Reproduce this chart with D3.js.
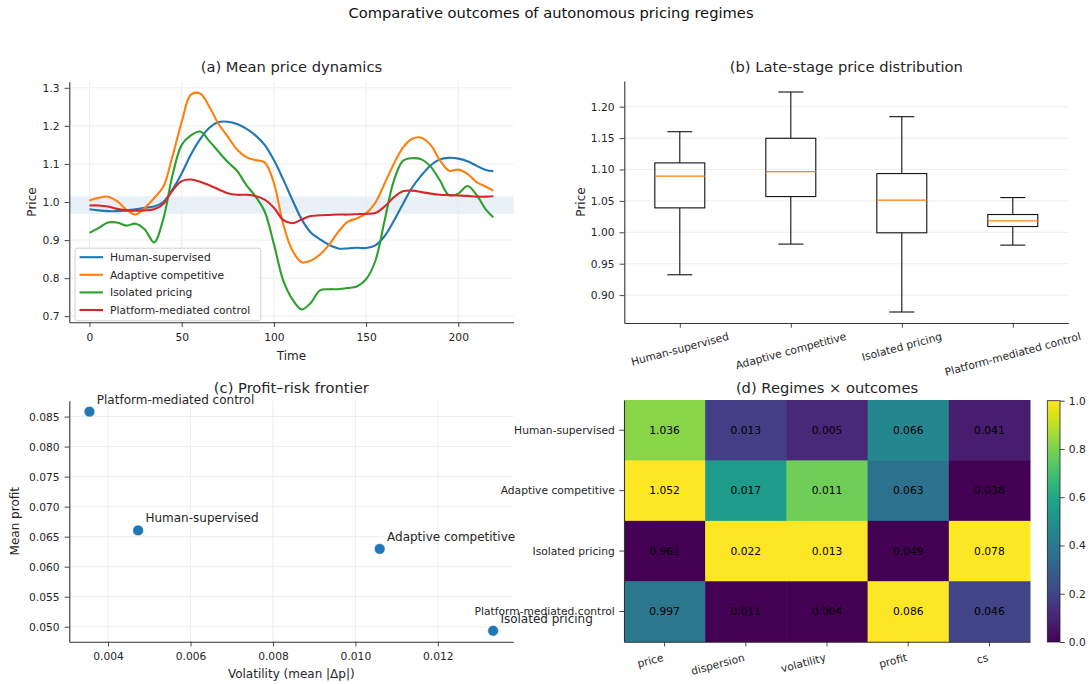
<!DOCTYPE html>
<html><head><meta charset="utf-8">
<script src="https://cdn.jsdelivr.net/npm/d3@7"></script>
<style>body{margin:0;background:#fff}svg{display:block}text{font-family:"DejaVu Sans",sans-serif}</style>
</head><body><svg id="c" width="1089" height="684"></svg>
<script>
// ---------------- DATA ----------------
const regimes = ["Human-supervised","Adaptive competitive","Isolated pricing","Platform-mediated control"];
const lineColors = ["#1f77b4","#ff7f0e","#2ca02c","#d62728"];
const timeSteps = [0,5,10,15,20,25,30,35,40,45,50,55,60,65,70,75,80,85,90,95,100,105,110,115,120,125,130,135,140,145,150,155,160,165,170,175,180,185,190,195,200,205,210,215,219];
const humanPrice = [0.981,0.978,0.976,0.976,0.978,0.981,0.985,0.988,1.000,1.033,1.075,1.125,1.165,1.195,1.210,1.211,1.205,1.193,1.175,1.150,1.110,1.060,1.006,0.955,0.920,0.902,0.887,0.878,0.878,0.880,0.879,0.886,0.910,0.950,0.995,1.038,1.070,1.096,1.112,1.116,1.114,1.107,1.095,1.084,1.081];
const adaptivePrice = [1.004,1.011,1.014,1.002,0.980,0.967,0.985,1.010,1.040,1.120,1.210,1.282,1.285,1.250,1.205,1.172,1.138,1.118,1.110,1.104,1.050,0.943,0.873,0.842,0.846,0.862,0.888,0.922,0.948,0.957,0.970,0.998,1.048,1.100,1.143,1.166,1.169,1.150,1.110,1.082,1.085,1.074,1.052,1.040,1.030];
const isolatedPrice = [0.919,0.932,0.946,0.946,0.938,0.943,0.928,0.894,0.955,1.070,1.150,1.175,1.185,1.160,1.132,1.105,1.082,1.045,1.015,0.975,0.890,0.795,0.745,0.718,0.735,0.768,0.771,0.771,0.774,0.778,0.797,0.845,0.950,1.055,1.108,1.115,1.112,1.093,1.057,1.018,1.022,1.042,1.018,0.980,0.960];
const platformPrice = [0.991,0.991,0.988,0.982,0.978,0.977,0.978,0.981,0.995,1.030,1.055,1.059,1.053,1.044,1.033,1.023,1.019,1.019,1.016,1.006,0.985,0.953,0.944,0.954,0.963,0.965,0.966,0.967,0.967,0.968,0.969,0.971,0.988,1.012,1.028,1.030,1.026,1.022,1.019,1.018,1.017,1.016,1.014,1.014,1.015];
const referenceBand = [0.969, 1.015];
const priceYLimits = [0.684, 1.316];
const timeTicks = [0,50,100,150,200];
const priceTicks = [0.7,0.8,0.9,1.0,1.1,1.2,1.3];

// (b) box plot statistics
const boxLow    = [0.9324,0.9812,0.8731,0.9796];
const boxQ1     = [1.0389,1.0569,0.9992,1.0092];
const boxMedian = [1.0893,1.0966,1.0511,1.0183];
const boxQ3     = [1.1105,1.1497,1.0935,1.0283];
const boxHigh   = [1.1602,1.2234,1.1841,1.0553];
const boxTicks = [0.90,0.95,1.00,1.05,1.10,1.15,1.20];

// (c) scatter
const volatilityMean = [0.00473,0.01059,0.01334,0.00355];
const profitMean     = [0.06604,0.06296,0.04933,0.08582];
const volTicks = [0.004,0.006,0.008,0.010,0.012];
const profitTicks = [0.050,0.055,0.060,0.065,0.070,0.075,0.080,0.085];

// (d) heatmap
const metrics = ["price","dispersion","volatility","profit","cs"];
const heatPrice      = [1.036,1.052,0.961,0.997];
const heatDispersion = [0.013,0.017,0.022,0.011];
const heatVolatility = [0.005,0.011,0.013,0.004];
const heatProfit     = [0.066,0.063,0.049,0.086];
const heatCS         = [0.041,0.038,0.078,0.046];
const colorbarTicks = [0.0,0.2,0.4,0.6,0.8,1.0];

// ---------------- DRAW ----------------
const svg = d3.select("#c");
const TICK = 10.7, LBL = 12, TTL = 14.7, GRID = "#ebebeb", INK = "#262626", SPINE = "#333";

function styleAxis(g){
  g.selectAll("text").attr("font-size",TICK).attr("fill",INK);
  g.selectAll(".tick line").attr("stroke",SPINE).attr("stroke-width",0.9);
  g.select(".domain").attr("stroke",SPINE).attr("stroke-width",1.1);
}
function title(txt,x,y){ svg.append("text").attr("x",x).attr("y",y).attr("text-anchor","middle").attr("font-size",TTL).attr("fill",INK).text(txt); }
function ylabel(txt,x,y){ svg.append("text").attr("transform",`translate(${x},${y}) rotate(-90)`).attr("text-anchor","middle").attr("font-size",LBL).attr("fill",INK).text(txt); }
function xlabel(txt,x,y){ svg.append("text").attr("x",x).attr("y",y).attr("text-anchor","middle").attr("font-size",LBL).attr("fill",INK).text(txt); }

svg.append("text").attr("x",551).attr("y",18).attr("text-anchor","middle").attr("font-size",TTL).attr("fill","#111").text("Comparative outcomes of autonomous pricing regimes");

// ===== (a) =====
{
const A = {l:69.3,r:513.5,t:81.7,b:322.3};
const ext = d3.extent(timeSteps), pad = (ext[1]-ext[0])*0.05;
const x = d3.scaleLinear().domain([ext[0]-pad, ext[1]+pad]).range([A.l,A.r]);
const y = d3.scaleLinear().domain(priceYLimits).range([A.b,A.t]);
svg.append("rect").attr("x",A.l).attr("width",A.r-A.l).attr("y",y(referenceBand[1])).attr("height",y(referenceBand[0])-y(referenceBand[1])).attr("fill","#1f77b4").attr("fill-opacity",0.1);
const g = svg.append("g");
timeTicks.forEach(t=>g.append("line").attr("x1",x(t)).attr("x2",x(t)).attr("y1",A.t).attr("y2",A.b).attr("stroke",GRID).attr("stroke-width",0.8));
priceTicks.forEach(t=>g.append("line").attr("x1",A.l).attr("x2",A.r).attr("y1",y(t)).attr("y2",y(t)).attr("stroke",GRID).attr("stroke-width",0.8));
const series = [humanPrice, adaptivePrice, isolatedPrice, platformPrice];
const line = d3.line().x((d,i)=>x(timeSteps[i])).y(d=>y(d)).curve(d3.curveCatmullRom.alpha(0.5));
series.forEach((s,i)=>svg.append("path").attr("d",line(s)).attr("fill","none").attr("stroke",lineColors[i]).attr("stroke-width",2.1).attr("stroke-linejoin","round"));
const ax = svg.append("g").attr("transform",`translate(0,${A.b})`).call(d3.axisBottom(x).tickValues(timeTicks).tickFormat(d3.format("d")).tickSize(4.7).tickPadding(6.5).tickSizeOuter(0));
styleAxis(ax);
const ay = svg.append("g").attr("transform",`translate(${A.l},0)`).call(d3.axisLeft(y).tickValues(priceTicks).tickFormat(d3.format(".1f")).tickSize(4.7).tickPadding(5).tickSizeOuter(0));
styleAxis(ay);
title("(a) Mean price dynamics",(A.l+A.r)/2,72.3);
xlabel("Time",(A.l+A.r)/2,A.b+38);
ylabel("Price",35.5,(A.t+A.b)/2);
// legend
const L = {x:75,y:248.2,w:185.8,h:72.6};
svg.append("rect").attr("x",L.x).attr("y",L.y).attr("width",L.w).attr("height",L.h).attr("rx",2.5).attr("fill","#fff").attr("fill-opacity",0.8).attr("stroke","#cccccc").attr("stroke-width",0.9);
regimes.forEach((r,i)=>{
  const cy = L.y+9+i*17.6;
  svg.append("line").attr("x1",L.x+4.5).attr("x2",L.x+28).attr("y1",cy).attr("y2",cy).attr("stroke",lineColors[i]).attr("stroke-width",2.1);
  svg.append("text").attr("x",L.x+35).attr("y",cy).attr("dy","0.35em").attr("font-size",TICK).attr("fill",INK).text(r);
});
}

// ===== (b) =====
{
const B = {l:624.3,r:1068.3,t:81,b:323};
const lo = d3.min(boxLow), hi = d3.max(boxHigh), pad=(hi-lo)*0.05;
const y = d3.scaleLinear().domain([lo-pad,hi+pad]).range([B.b,B.t]);
const x = d3.scaleLinear().domain([0.5,4.5]).range([B.l,B.r]);
boxTicks.forEach(t=>svg.append("line").attr("x1",B.l).attr("x2",B.r).attr("y1",y(t)).attr("y2",y(t)).attr("stroke",GRID).attr("stroke-width",0.8));
const bw = x(0.45)-x(0), cw = bw/2;
regimes.forEach((r,i)=>{
  const cx = x(i+1);
  const k = "#111";
  svg.append("line").attr("x1",cx).attr("x2",cx).attr("y1",y(boxQ3[i])).attr("y2",y(boxHigh[i])).attr("stroke",k).attr("stroke-width",1.1);
  svg.append("line").attr("x1",cx).attr("x2",cx).attr("y1",y(boxQ1[i])).attr("y2",y(boxLow[i])).attr("stroke",k).attr("stroke-width",1.1);
  svg.append("line").attr("x1",cx-cw/2).attr("x2",cx+cw/2).attr("y1",y(boxHigh[i])).attr("y2",y(boxHigh[i])).attr("stroke",k).attr("stroke-width",1.1);
  svg.append("line").attr("x1",cx-cw/2).attr("x2",cx+cw/2).attr("y1",y(boxLow[i])).attr("y2",y(boxLow[i])).attr("stroke",k).attr("stroke-width",1.1);
  svg.append("rect").attr("x",cx-bw/2).attr("width",bw).attr("y",y(boxQ3[i])).attr("height",y(boxQ1[i])-y(boxQ3[i])).attr("fill","none").attr("stroke",k).attr("stroke-width",1.1);
  svg.append("line").attr("x1",cx-bw/2).attr("x2",cx+bw/2).attr("y1",y(boxMedian[i])).attr("y2",y(boxMedian[i])).attr("stroke","#ff7f0e").attr("stroke-width",1.3);
});
const ax = svg.append("g").attr("transform",`translate(0,${B.b})`).call(d3.axisBottom(x).tickValues([1,2,3,4]).tickFormat(()=>"").tickSize(4.7).tickSizeOuter(0));
styleAxis(ax);
regimes.forEach((r,i)=>{
  const t = svg.append("text").attr("font-size",TICK).attr("fill",INK).attr("text-anchor","middle").text(r);
  const w = t.node().getComputedTextLength();
  const H = w*Math.sin(15*Math.PI/180) + 0.75*TICK*Math.cos(15*Math.PI/180);
  t.attr("transform",`translate(${x(i+1)},${B.b+9+H/2}) rotate(-15)`).attr("dy","0.36em");
});
const ay = svg.append("g").attr("transform",`translate(${B.l},0)`).call(d3.axisLeft(y).tickValues(boxTicks).tickFormat(d3.format(".2f")).tickSize(4.7).tickPadding(5).tickSizeOuter(0));
styleAxis(ay);
title("(b) Late-stage price distribution",(B.l+B.r)/2,72.3);
ylabel("Price",584.5,(B.t+B.b)/2);
}

// ===== (c) =====
{
const C = {l:69.3,r:513.3,t:400.7,b:641.7};
const xe = d3.extent(volatilityMean), xp=(xe[1]-xe[0])*0.05;
const ye = d3.extent(profitMean), yp=(ye[1]-ye[0])*0.05;
const x = d3.scaleLinear().domain([xe[0]-xp,xe[1]+xp]).range([C.l,C.r]);
const y = d3.scaleLinear().domain([ye[0]-yp,ye[1]+yp]).range([C.b,C.t]);
volTicks.forEach(t=>svg.append("line").attr("x1",x(t)).attr("x2",x(t)).attr("y1",C.t).attr("y2",C.b).attr("stroke",GRID).attr("stroke-width",0.8));
profitTicks.forEach(t=>svg.append("line").attr("x1",C.l).attr("x2",C.r).attr("y1",y(t)).attr("y2",y(t)).attr("stroke",GRID).attr("stroke-width",0.8));
regimes.forEach((r,i)=>{
  svg.append("circle").attr("cx",x(volatilityMean[i])).attr("cy",y(profitMean[i])).attr("r",5.4).attr("fill","#1f77b4").attr("stroke","#fff").attr("stroke-width",0.6);
});
const ax = svg.append("g").attr("transform",`translate(0,${C.b})`).call(d3.axisBottom(x).tickValues(volTicks).tickFormat(d3.format(".3f")).tickSize(4.7).tickPadding(6.5).tickSizeOuter(0));
styleAxis(ax);
const ay = svg.append("g").attr("transform",`translate(${C.l},0)`).call(d3.axisLeft(y).tickValues(profitTicks).tickFormat(d3.format(".3f")).tickSize(4.7).tickPadding(5).tickSizeOuter(0));
styleAxis(ay);
title("(c) Profit\u2013risk frontier",(C.l+C.r)/2,393);
xlabel("Volatility (mean |\u0394p|)",(C.l+C.r)/2,C.b+36);
ylabel("Mean profit",19,(C.t+C.b)/2);
this.annC = ()=>regimes.forEach((r,i)=>{
  svg.append("text").attr("x",x(volatilityMean[i])+7.3).attr("y",y(profitMean[i])-8).attr("font-size",12).attr("fill",INK).text(r);
});
}

// ===== (d) =====
{
const D = {l:624,r:1030,t:400,b:641.7};
const cols = [heatPrice,heatDispersion,heatVolatility,heatProfit,heatCS];
const x = d3.scaleBand().domain(metrics).range([D.l,D.r]);
const y = d3.scaleBand().domain(regimes).range([D.t,D.b]);
metrics.forEach((m,j)=>{
  const v = cols[j]; const [mn,mx] = d3.extent(v);
  regimes.forEach((r,i)=>{
    const n = (v[i]-mn)/(mx-mn);
    svg.append("rect").attr("x",x(m)).attr("y",y(r)).attr("width",x.bandwidth()+0.5).attr("height",y.bandwidth()+0.5).attr("fill",d3.interpolateViridis(n));
    svg.append("text").attr("x",x(m)+x.bandwidth()/2).attr("y",y(r)+y.bandwidth()/2).attr("dy","0.36em").attr("text-anchor","middle").attr("font-size",TICK).attr("fill","#000").text(d3.format(".3f")(v[i]));
  });
});
const ax = svg.append("g").attr("transform",`translate(0,${D.b})`).call(d3.axisBottom(x).tickFormat(()=>"").tickSize(4.7).tickSizeOuter(0));
styleAxis(ax);
metrics.forEach(m=>{
  svg.append("text").attr("transform",`translate(${x(m)+x.bandwidth()/2-0.5},${D.b+19}) rotate(-15)`).attr("text-anchor","end").attr("font-size",TICK).attr("fill",INK).text(m);
});
const ay = svg.append("g").attr("transform",`translate(${D.l},0)`).call(d3.axisLeft(y).tickSize(4.7).tickPadding(4.5).tickSizeOuter(0));
styleAxis(ay);
title("(d) Regimes \u00d7 outcomes",(D.l+D.r)/2,392.5);
// colorbar
const CB = {l:1047.3,r:1060,t:400.7,b:642};
const grad = svg.append("defs").append("linearGradient").attr("id","vir").attr("x1",0).attr("y1",1).attr("x2",0).attr("y2",0);
d3.range(0,1.0001,0.05).forEach(s=>grad.append("stop").attr("offset",s).attr("stop-color",d3.interpolateViridis(s)));
svg.append("rect").attr("x",CB.l).attr("y",CB.t).attr("width",CB.r-CB.l).attr("height",CB.b-CB.t).attr("fill","url(#vir)").attr("stroke","#222").attr("stroke-width",0.8);
const cs = d3.scaleLinear().domain([0,1]).range([CB.b,CB.t]);
const ac = svg.append("g").attr("transform",`translate(${CB.r},0)`).call(d3.axisRight(cs).tickValues(colorbarTicks).tickFormat(d3.format(".1f")).tickSize(4.7).tickPadding(4).tickSizeOuter(0));
styleAxis(ac); ac.select(".domain").remove();
}
// annotations of (c) on top (they overlap neighbouring labels)
annC();
</script></body></html>
